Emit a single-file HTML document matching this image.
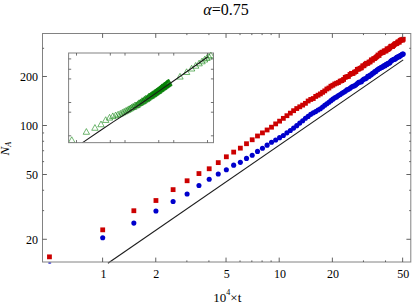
<!DOCTYPE html>
<html><head><meta charset="utf-8"><title>plot</title>
<style>html,body{margin:0;padding:0;background:#fff;}body{width:415px;height:305px;overflow:hidden;position:relative;font-family:"Liberation Serif",serif;}</style></head>
<body>
<svg width="415" height="305" viewBox="0 0 415 305" style="position:absolute;left:0;top:0">
<rect x="0" y="0" width="415" height="305" fill="#fff"/>
<defs><clipPath id="cm"><rect x="42.5" y="33.5" width="368.3" height="228.7"/></clipPath><clipPath id="ci"><rect x="68.6" y="52.0" width="145.4" height="90.7"/></clipPath></defs>
<line x1="107.9" y1="263.2" x2="403.2" y2="59.9" stroke="#1c1c1c" stroke-width="1.1"/>
<g fill="#0000cc"><circle cx="102.70" cy="237.70" r="2.55"/><circle cx="133.85" cy="223.12" r="2.55"/><circle cx="155.95" cy="210.94" r="2.55"/><circle cx="173.10" cy="201.51" r="2.55"/><circle cx="187.10" cy="194.05" r="2.55"/><circle cx="198.95" cy="185.43" r="2.55"/><circle cx="209.20" cy="179.28" r="2.55"/><circle cx="218.25" cy="173.97" r="2.55"/><circle cx="226.35" cy="169.78" r="2.55"/><circle cx="233.67" cy="165.13" r="2.55"/><circle cx="240.35" cy="162.37" r="2.55"/><circle cx="246.50" cy="158.38" r="2.55"/><circle cx="252.20" cy="155.25" r="2.55"/><circle cx="257.50" cy="151.39" r="2.55"/><circle cx="262.46" cy="148.29" r="2.55"/><circle cx="267.11" cy="145.15" r="2.55"/><circle cx="271.51" cy="142.31" r="2.55"/><circle cx="275.66" cy="140.01" r="2.55"/><circle cx="279.60" cy="137.66" r="2.55"/><circle cx="283.35" cy="135.43" r="2.55"/><circle cx="286.92" cy="132.86" r="2.55"/><circle cx="290.34" cy="130.43" r="2.55"/><circle cx="293.61" cy="128.11" r="2.55"/><circle cx="296.74" cy="125.66" r="2.55"/><circle cx="299.76" cy="123.11" r="2.55"/><circle cx="302.66" cy="120.74" r="2.55"/><circle cx="305.45" cy="118.28" r="2.55"/><circle cx="308.15" cy="116.38" r="2.55"/><circle cx="310.75" cy="114.36" r="2.55"/><circle cx="313.27" cy="112.83" r="2.55"/><circle cx="315.71" cy="111.58" r="2.55"/><circle cx="318.07" cy="110.06" r="2.55"/><circle cx="320.37" cy="108.81" r="2.55"/><circle cx="322.59" cy="106.96" r="2.55"/><circle cx="324.76" cy="105.18" r="2.55"/><circle cx="326.86" cy="103.79" r="2.55"/><circle cx="328.91" cy="102.26" r="2.55"/><circle cx="330.91" cy="100.64" r="2.55"/><circle cx="332.85" cy="99.13" r="2.55"/><circle cx="334.75" cy="97.87" r="2.55"/><circle cx="336.60" cy="96.91" r="2.55"/><circle cx="338.41" cy="95.44" r="2.55"/><circle cx="340.17" cy="94.47" r="2.55"/><circle cx="341.90" cy="93.18" r="2.55"/><circle cx="343.59" cy="92.30" r="2.55"/><circle cx="345.24" cy="91.25" r="2.55"/><circle cx="346.86" cy="89.88" r="2.55"/><circle cx="348.44" cy="89.25" r="2.55"/><circle cx="350.00" cy="88.29" r="2.55"/><circle cx="351.52" cy="87.04" r="2.55"/><circle cx="353.01" cy="86.24" r="2.55"/><circle cx="354.47" cy="85.69" r="2.55"/><circle cx="355.91" cy="84.84" r="2.55"/><circle cx="357.32" cy="83.56" r="2.55"/><circle cx="358.70" cy="82.27" r="2.55"/><circle cx="360.06" cy="82.09" r="2.55"/><circle cx="361.40" cy="81.67" r="2.55"/><circle cx="362.71" cy="80.00" r="2.55"/><circle cx="364.00" cy="79.04" r="2.55"/><circle cx="365.27" cy="78.69" r="2.55"/><circle cx="366.52" cy="78.07" r="2.55"/><circle cx="367.75" cy="76.32" r="2.55"/><circle cx="368.96" cy="76.39" r="2.55"/><circle cx="370.15" cy="74.93" r="2.55"/><circle cx="371.33" cy="74.84" r="2.55"/><circle cx="372.48" cy="73.22" r="2.55"/><circle cx="373.62" cy="73.06" r="2.55"/><circle cx="374.74" cy="71.62" r="2.55"/><circle cx="375.85" cy="71.62" r="2.55"/><circle cx="376.94" cy="70.12" r="2.55"/><circle cx="378.01" cy="69.57" r="2.55"/><circle cx="379.07" cy="68.60" r="2.55"/><circle cx="380.11" cy="68.31" r="2.55"/><circle cx="381.15" cy="67.39" r="2.55"/><circle cx="382.16" cy="67.18" r="2.55"/><circle cx="383.17" cy="66.41" r="2.55"/><circle cx="384.16" cy="65.66" r="2.55"/><circle cx="385.14" cy="65.76" r="2.55"/><circle cx="386.10" cy="64.29" r="2.55"/><circle cx="387.06" cy="64.39" r="2.55"/><circle cx="388.00" cy="63.33" r="2.55"/><circle cx="388.93" cy="63.22" r="2.55"/><circle cx="389.85" cy="62.65" r="2.55"/><circle cx="390.76" cy="61.36" r="2.55"/><circle cx="391.66" cy="60.62" r="2.55"/><circle cx="392.55" cy="59.95" r="2.55"/><circle cx="393.43" cy="59.45" r="2.55"/><circle cx="394.29" cy="59.33" r="2.55"/><circle cx="395.15" cy="58.91" r="2.55"/><circle cx="396.00" cy="58.14" r="2.55"/><circle cx="396.84" cy="57.42" r="2.55"/><circle cx="397.67" cy="57.14" r="2.55"/><circle cx="398.49" cy="56.44" r="2.55"/><circle cx="399.31" cy="56.68" r="2.55"/><circle cx="400.11" cy="55.63" r="2.55"/><circle cx="400.91" cy="55.23" r="2.55"/><circle cx="401.70" cy="54.79" r="2.55"/><circle cx="402.48" cy="54.16" r="2.55"/><circle cx="403.25" cy="53.94" r="2.55"/></g>
<g fill="#cc0000"><rect x="47.05" y="254.45" width="4.8" height="4.8"/><rect x="100.30" y="227.44" width="4.8" height="4.8"/><rect x="131.45" y="208.33" width="4.8" height="4.8"/><rect x="153.55" y="198.11" width="4.8" height="4.8"/><rect x="170.70" y="187.23" width="4.8" height="4.8"/><rect x="184.70" y="178.36" width="4.8" height="4.8"/><rect x="196.55" y="171.16" width="4.8" height="4.8"/><rect x="206.80" y="166.36" width="4.8" height="4.8"/><rect x="215.85" y="160.22" width="4.8" height="4.8"/><rect x="223.95" y="154.38" width="4.8" height="4.8"/><rect x="231.27" y="149.70" width="4.8" height="4.8"/><rect x="237.95" y="145.74" width="4.8" height="4.8"/><rect x="244.10" y="141.32" width="4.8" height="4.8"/><rect x="249.80" y="137.36" width="4.8" height="4.8"/><rect x="255.10" y="133.59" width="4.8" height="4.8"/><rect x="260.06" y="130.49" width="4.8" height="4.8"/><rect x="264.71" y="127.57" width="4.8" height="4.8"/><rect x="269.11" y="124.79" width="4.8" height="4.8"/><rect x="273.26" y="121.49" width="4.8" height="4.8"/><rect x="277.20" y="118.75" width="4.8" height="4.8"/><rect x="280.95" y="115.95" width="4.8" height="4.8"/><rect x="284.52" y="113.30" width="4.8" height="4.8"/><rect x="287.94" y="110.74" width="4.8" height="4.8"/><rect x="291.21" y="108.29" width="4.8" height="4.8"/><rect x="294.34" y="106.14" width="4.8" height="4.8"/><rect x="297.36" y="104.39" width="4.8" height="4.8"/><rect x="300.26" y="102.71" width="4.8" height="4.8"/><rect x="303.05" y="100.94" width="4.8" height="4.8"/><rect x="305.75" y="98.60" width="4.8" height="4.8"/><rect x="308.35" y="97.05" width="4.8" height="4.8"/><rect x="310.87" y="96.13" width="4.8" height="4.8"/><rect x="313.31" y="94.03" width="4.8" height="4.8"/><rect x="315.67" y="92.81" width="4.8" height="4.8"/><rect x="317.97" y="91.51" width="4.8" height="4.8"/><rect x="320.19" y="89.93" width="4.8" height="4.8"/><rect x="322.36" y="88.47" width="4.8" height="4.8"/><rect x="324.46" y="86.60" width="4.8" height="4.8"/><rect x="326.51" y="85.59" width="4.8" height="4.8"/><rect x="328.51" y="83.81" width="4.8" height="4.8"/><rect x="330.45" y="82.85" width="4.8" height="4.8"/><rect x="332.35" y="81.58" width="4.8" height="4.8"/><rect x="334.20" y="80.80" width="4.8" height="4.8"/><rect x="336.01" y="80.15" width="4.8" height="4.8"/><rect x="337.77" y="78.74" width="4.8" height="4.8"/><rect x="339.50" y="78.21" width="4.8" height="4.8"/><rect x="341.19" y="77.05" width="4.8" height="4.8"/><rect x="342.84" y="74.99" width="4.8" height="4.8"/><rect x="344.46" y="74.27" width="4.8" height="4.8"/><rect x="346.04" y="74.01" width="4.8" height="4.8"/><rect x="347.60" y="72.07" width="4.8" height="4.8"/><rect x="349.12" y="70.97" width="4.8" height="4.8"/><rect x="350.61" y="71.10" width="4.8" height="4.8"/><rect x="352.07" y="69.79" width="4.8" height="4.8"/><rect x="353.51" y="69.14" width="4.8" height="4.8"/><rect x="354.92" y="66.96" width="4.8" height="4.8"/><rect x="356.30" y="66.70" width="4.8" height="4.8"/><rect x="357.66" y="65.89" width="4.8" height="4.8"/><rect x="359.00" y="65.41" width="4.8" height="4.8"/><rect x="360.31" y="63.46" width="4.8" height="4.8"/><rect x="361.60" y="63.36" width="4.8" height="4.8"/><rect x="362.87" y="61.82" width="4.8" height="4.8"/><rect x="364.12" y="60.86" width="4.8" height="4.8"/><rect x="365.35" y="61.03" width="4.8" height="4.8"/><rect x="366.56" y="59.69" width="4.8" height="4.8"/><rect x="367.75" y="59.52" width="4.8" height="4.8"/><rect x="368.93" y="57.48" width="4.8" height="4.8"/><rect x="370.08" y="57.78" width="4.8" height="4.8"/><rect x="371.22" y="56.28" width="4.8" height="4.8"/><rect x="372.34" y="56.09" width="4.8" height="4.8"/><rect x="373.45" y="55.05" width="4.8" height="4.8"/><rect x="374.54" y="54.12" width="4.8" height="4.8"/><rect x="375.61" y="52.61" width="4.8" height="4.8"/><rect x="376.67" y="53.05" width="4.8" height="4.8"/><rect x="377.71" y="51.13" width="4.8" height="4.8"/><rect x="378.75" y="50.51" width="4.8" height="4.8"/><rect x="379.76" y="49.75" width="4.8" height="4.8"/><rect x="380.77" y="50.07" width="4.8" height="4.8"/><rect x="381.76" y="48.55" width="4.8" height="4.8"/><rect x="382.74" y="48.56" width="4.8" height="4.8"/><rect x="383.70" y="48.50" width="4.8" height="4.8"/><rect x="384.66" y="46.38" width="4.8" height="4.8"/><rect x="385.60" y="47.11" width="4.8" height="4.8"/><rect x="386.53" y="46.24" width="4.8" height="4.8"/><rect x="387.45" y="45.40" width="4.8" height="4.8"/><rect x="388.36" y="43.94" width="4.8" height="4.8"/><rect x="389.26" y="43.74" width="4.8" height="4.8"/><rect x="390.15" y="44.12" width="4.8" height="4.8"/><rect x="391.03" y="43.19" width="4.8" height="4.8"/><rect x="391.89" y="42.17" width="4.8" height="4.8"/><rect x="392.75" y="41.35" width="4.8" height="4.8"/><rect x="393.60" y="41.33" width="4.8" height="4.8"/><rect x="394.44" y="41.09" width="4.8" height="4.8"/><rect x="395.27" y="39.74" width="4.8" height="4.8"/><rect x="396.09" y="39.49" width="4.8" height="4.8"/><rect x="396.91" y="39.78" width="4.8" height="4.8"/><rect x="397.71" y="38.04" width="4.8" height="4.8"/><rect x="398.51" y="37.72" width="4.8" height="4.8"/><rect x="399.30" y="37.28" width="4.8" height="4.8"/><rect x="400.08" y="37.74" width="4.8" height="4.8"/><rect x="400.85" y="36.84" width="4.8" height="4.8"/></g>
<ellipse cx="49.7" cy="263.0" rx="1.7" ry="0.7" fill="#0000cc" opacity="0.9"/>
<rect x="42.5" y="33.5" width="368.3" height="228.5" fill="none" stroke="#828282" stroke-width="1"/>
<path d="M102.60 262.0v-4.4M102.60 33.5v4.4M155.76 262.0v-4.4M155.76 33.5v4.4M226.04 262.0v-4.4M226.04 33.5v4.4M279.20 262.0v-4.4M279.20 33.5v4.4M332.36 262.0v-4.4M332.36 33.5v4.4M402.64 262.0v-4.4M402.64 33.5v4.4M186.86 262.0v-1.6M186.86 33.5v1.6M208.92 262.0v-1.6M208.92 33.5v1.6M240.02 262.0v-1.6M240.02 33.5v1.6M251.84 262.0v-1.6M251.84 33.5v1.6M262.09 262.0v-1.6M262.09 33.5v1.6M271.12 262.0v-1.6M271.12 33.5v1.6M363.46 262.0v-1.6M363.46 33.5v1.6M385.52 262.0v-1.6M385.52 33.5v1.6M42.5 239.29h4.4M410.8 239.29h-4.4M42.5 174.51h4.4M410.8 174.51h-4.4M42.5 125.50h4.4M410.8 125.50h-4.4M42.5 76.49h4.4M410.8 76.49h-4.4M42.5 210.62h1.6M410.8 210.62h-1.6M42.5 190.28h1.6M410.8 190.28h-1.6M42.5 161.62h1.6M410.8 161.62h-1.6M42.5 150.72h1.6M410.8 150.72h-1.6M42.5 141.28h1.6M410.8 141.28h-1.6M42.5 132.95h1.6M410.8 132.95h-1.6M42.5 48.30h1.6M410.8 48.30h-1.6" stroke="#505050" stroke-width="0.9" fill="none"/>
<rect x="68.6" y="53.0" width="144.9" height="89.65" fill="#fff" stroke="none"/>
<path d="M71.74 136.79L74.94 142.49L68.54 142.49ZM86.37 128.58L89.57 134.28L83.17 134.28ZM94.93 124.58L98.13 130.28L91.73 130.28ZM101.00 121.06L104.20 126.76L97.80 126.76ZM105.71 116.73L108.91 122.43L102.51 122.43ZM109.56 114.38L112.76 120.08L106.36 120.08ZM112.81 112.93L116.01 118.63L109.61 118.63ZM115.63 112.06L118.83 117.76L112.43 117.76ZM118.12 111.22L121.32 116.92L114.92 116.92ZM120.34 110.40L123.54 116.10L117.14 116.10ZM122.35 109.36L125.55 115.06L119.15 115.06ZM124.19 108.41L127.39 114.11L120.99 114.11ZM125.88 107.54L129.08 113.24L122.68 113.24ZM127.44 106.73L130.64 112.43L124.24 112.43ZM128.90 105.91L132.10 111.61L125.70 111.61ZM130.26 105.10L133.46 110.80L127.06 110.80ZM131.54 104.34L134.74 110.04L128.34 110.04ZM132.75 103.63L135.95 109.33L129.55 109.33ZM133.89 103.51L137.09 109.21L130.69 109.21ZM134.97 102.04L138.17 107.74L131.77 107.74ZM136.00 102.25L139.20 107.95L132.80 107.95ZM136.98 101.86L140.18 107.56L133.78 107.56ZM137.92 100.85L141.12 106.55L134.72 106.55ZM138.82 99.89L142.02 105.59L135.62 105.59ZM139.68 99.80L142.88 105.50L136.48 105.50ZM140.51 99.31L143.71 105.01L137.31 105.01ZM141.30 98.74L144.50 104.44L138.10 104.44ZM142.07 97.63L145.27 103.33L138.87 103.33ZM142.81 98.15L146.01 103.85L139.61 103.85ZM143.53 97.67L146.73 103.37L140.33 103.37ZM144.22 96.59L147.42 102.29L141.02 102.29ZM144.89 96.37L148.09 102.07L141.69 102.07ZM145.54 95.30L148.74 101.00L142.34 101.00ZM146.17 96.05L149.37 101.75L142.97 101.75ZM146.78 95.46L149.98 101.16L143.58 101.16ZM147.38 94.87L150.58 100.57L144.18 100.57ZM147.96 94.66L151.16 100.36L144.76 100.36ZM148.52 93.62L151.72 99.32L145.32 99.32ZM149.07 93.42L152.27 99.12L145.87 99.12ZM149.60 93.01L152.80 98.71L146.40 98.71ZM150.12 93.10L153.32 98.80L146.92 98.80ZM150.63 92.13L153.83 97.83L147.43 97.83ZM151.13 92.75L154.33 98.45L147.93 98.45ZM151.61 91.88L154.81 97.58L148.41 97.58ZM152.09 91.53L155.29 97.23L148.89 97.23ZM152.55 90.79L155.75 96.49L149.35 96.49ZM153.00 91.17L156.20 96.87L149.80 96.87ZM153.45 91.01L156.65 96.71L150.25 96.71ZM153.88 90.48L157.08 96.18L150.68 96.18ZM154.31 89.72L157.51 95.42L151.11 95.42ZM154.73 90.07L157.93 95.77L151.53 95.77ZM155.14 89.02L158.34 94.72L151.94 94.72ZM155.54 89.55L158.74 95.25L152.34 95.25ZM155.94 88.98L159.14 94.68L152.74 94.68ZM156.32 88.35L159.52 94.05L153.12 94.05ZM156.70 88.36L159.90 94.06L153.50 94.06ZM157.08 88.23L160.28 93.93L153.88 93.93ZM157.44 87.53L160.64 93.23L154.24 93.23ZM157.80 87.97L161.00 93.67L154.60 93.67ZM158.16 87.20L161.36 92.90L154.96 92.90ZM158.51 87.50L161.71 93.20L155.31 93.20ZM158.85 87.18L162.05 92.88L155.65 92.88ZM159.19 86.05L162.39 91.75L155.99 91.75ZM159.52 86.46L162.72 92.16L156.32 92.16ZM159.85 85.81L163.05 91.51L156.65 91.51ZM160.17 86.11L163.37 91.81L156.97 91.81ZM160.49 85.62L163.69 91.32L157.29 91.32ZM160.80 85.28L164.00 90.98L157.60 90.98ZM161.11 85.58L164.31 91.28L157.91 91.28ZM161.41 84.35L164.61 90.05L158.21 90.05ZM161.71 84.73L164.91 90.43L158.51 90.43ZM162.01 84.24L165.21 89.94L158.81 89.94ZM162.30 83.67L165.50 89.37L159.10 89.37ZM162.59 84.32L165.79 90.02L159.39 90.02ZM162.87 83.88L166.07 89.58L159.67 89.58ZM163.15 84.07L166.35 89.77L159.95 89.77ZM163.42 83.51L166.62 89.21L160.22 89.21ZM163.70 83.00L166.90 88.70L160.50 88.70ZM163.97 83.58L167.17 89.28L160.77 89.28ZM164.23 82.34L167.43 88.04L161.03 88.04ZM164.49 82.07L167.69 87.77L161.29 87.77ZM164.75 82.69L167.95 88.39L161.55 88.39ZM165.01 82.07L168.21 87.77L161.81 87.77ZM165.26 81.87L168.46 87.57L162.06 87.57ZM165.51 82.30L168.71 88.00L162.31 88.00ZM165.76 81.46L168.96 87.16L162.56 87.16ZM166.00 81.96L169.20 87.66L162.80 87.66ZM166.24 81.48L169.44 87.18L163.04 87.18ZM166.48 80.93L169.68 86.63L163.28 86.63ZM166.72 80.43L169.92 86.13L163.52 86.13ZM166.95 80.48L170.15 86.18L163.75 86.18ZM167.18 81.18L170.38 86.88L163.98 86.88ZM167.41 80.33L170.61 86.03L164.21 86.03ZM167.63 79.87L170.83 85.57L164.43 85.57ZM167.86 79.87L171.06 85.57L164.66 85.57ZM168.08 80.44L171.28 86.14L164.88 86.14ZM168.30 79.40L171.50 85.10L165.10 85.10ZM168.51 79.99L171.71 85.69L165.31 85.69ZM168.73 79.07L171.93 84.77L165.53 84.77ZM168.94 79.91L172.14 85.61L165.74 85.61ZM179.98 73.37L183.18 79.07L176.78 79.07ZM186.60 68.79L189.80 74.49L183.40 74.49ZM191.64 65.31L194.84 71.01L188.44 71.01ZM195.70 62.49L198.90 68.19L192.50 68.19ZM199.10 60.14L202.30 65.84L195.90 65.84ZM202.03 58.11L205.23 63.81L198.83 63.81ZM204.61 56.33L207.81 62.03L201.41 62.03ZM206.90 54.74L210.10 60.44L203.70 60.44ZM208.97 53.31L212.17 59.01L205.77 59.01ZM210.85 52.01L214.05 57.71L207.65 57.71Z" fill="none" stroke="#088208" stroke-width="0.58" stroke-linejoin="miter" clip-path="url(#ci)"/>
<path d="M82.2 142.85 L100 130.75 L114 121.35 L125 114.2 L136 106.95 L144 101.5 L160 90.4 L176 79.3 L192 67.95 L207.9 56.7" fill="none" stroke="#1a1a1a" stroke-width="1.05" stroke-linejoin="round" clip-path="url(#ci)"/>
<rect x="68.6" y="53.0" width="144.9" height="89.65" fill="none" stroke="#828282" stroke-width="1"/>
<path d="M76.5 142.65v-2.6M76.5 53.0v2.6M110.3 142.65v-2.6M110.3 53.0v2.6M125 142.65v-2.6M125 53.0v2.6M158.75 142.65v-2.6M158.75 53.0v2.6M173.75 142.65v-2.6M173.75 53.0v2.6M207.5 142.65v-2.6M207.5 53.0v2.6M68.6 58.9h2.6M213.5 58.9h-2.6M68.6 69.25h2.6M213.5 69.25h-2.6M68.6 78.9h2.6M213.5 78.9h-2.6M68.6 102.5h2.6M213.5 102.5h-2.6M68.6 112.2h2.6M213.5 112.2h-2.6M68.6 135.8h2.6M213.5 135.8h-2.6" stroke="#505050" stroke-width="0.8" fill="none"/>
<g font-family="&quot;Liberation Serif&quot;, serif" fill="#000">
<g font-size="12" text-anchor="middle">
<text x="103.4" y="277.6">1</text>
<text x="156.3" y="277.6">2</text>
<text x="226.7" y="277.6">5</text>
<text x="280.1" y="277.6">10</text>
<text x="333" y="277.6">20</text>
<text x="403.3" y="277.6">50</text>
</g>
<g font-size="12" text-anchor="end">
<text x="38" y="243.8">20</text>
<text x="38" y="179">50</text>
<text x="38" y="130">100</text>
<text x="38" y="81">200</text>
</g>
<text x="226" y="15.45" font-size="16" text-anchor="middle"><tspan font-style="italic">α</tspan>=0.75</text>
<text x="213.3" y="302.35" font-size="13">10<tspan font-size="8" dy="-7.1">4</tspan><tspan dy="7.1">×t</tspan></text>
<text transform="translate(9.4,155.4) rotate(-90)" font-size="13" font-style="italic">N<tspan font-size="8" dy="1.5">A</tspan></text>
</g>
</svg>
</body></html>
